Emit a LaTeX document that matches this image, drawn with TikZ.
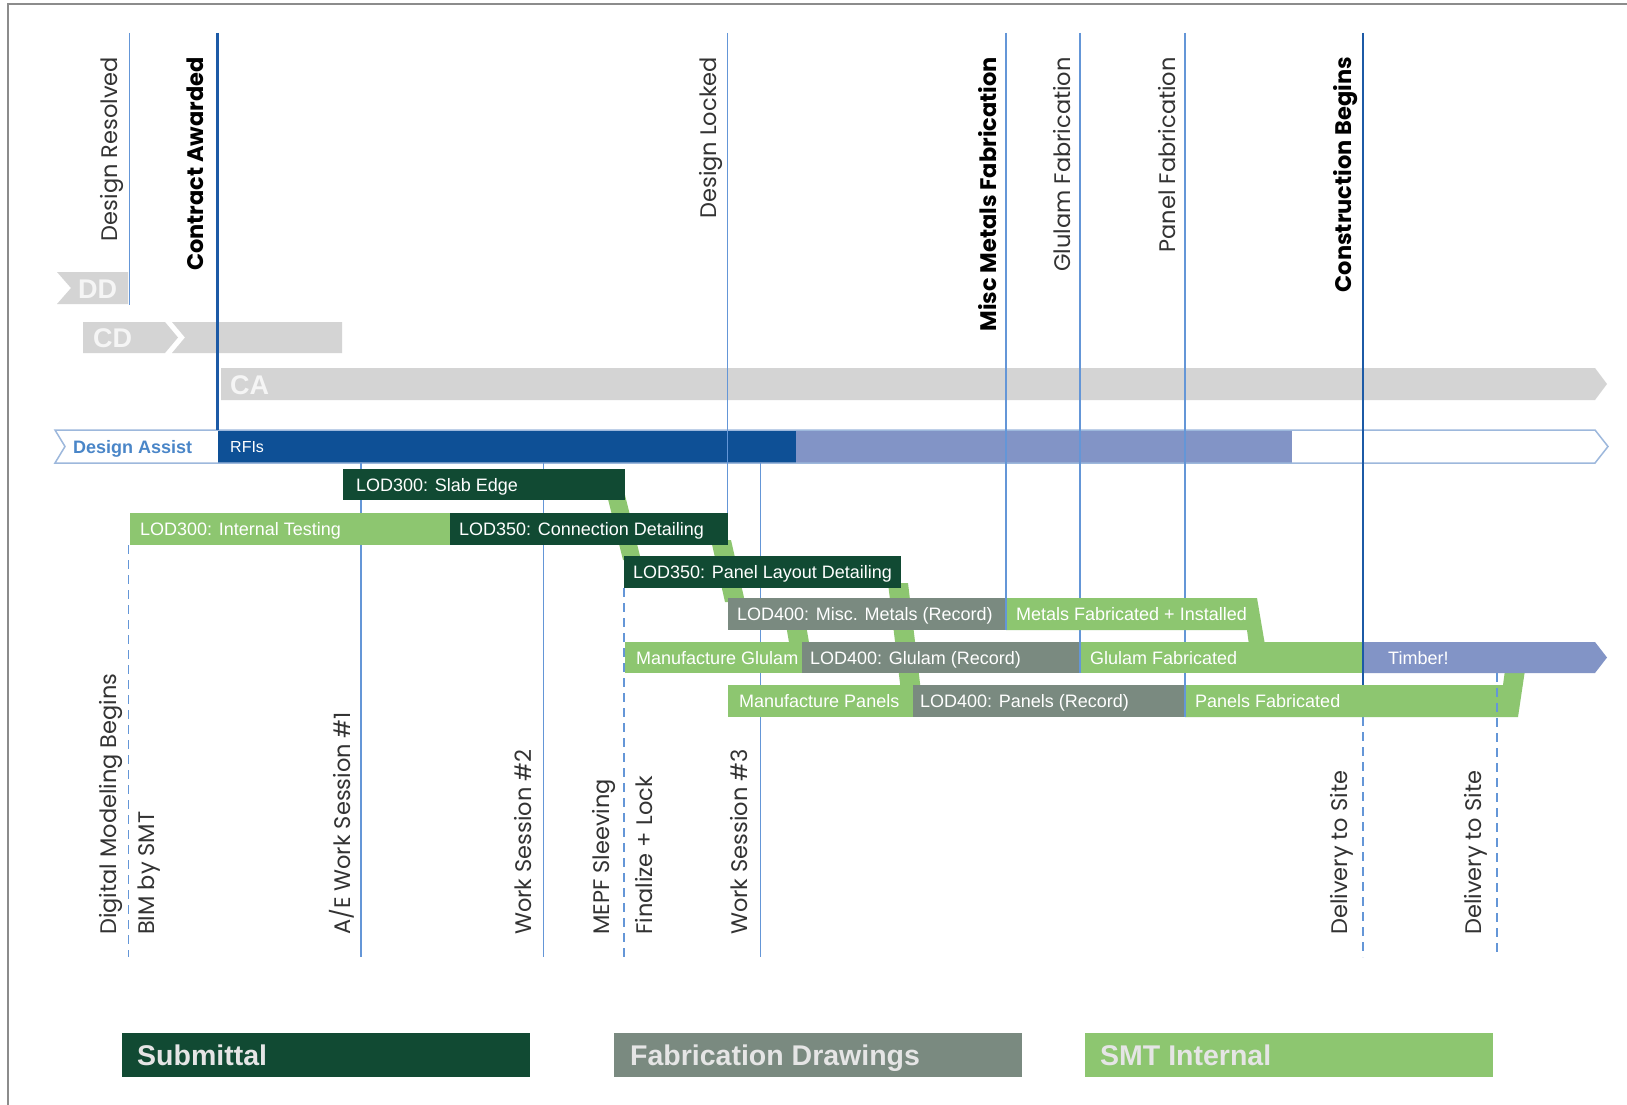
\documentclass[tikz,border=0pt]{standalone}
\usepackage{fontspec}
\setmainfont{Liberation Sans}
\newfontfamily\pop{Poppins}
\definecolor{dkg}{HTML}{114A33}
\definecolor{ltg}{HTML}{8DC670}
\definecolor{gyg}{HTML}{7A8A80}
\definecolor{rfib}{HTML}{0E5096}
\definecolor{peri}{HTML}{8294C6}
\definecolor{phase}{HTML}{D4D4D4}
\definecolor{lineb}{HTML}{6496D7}
\definecolor{lined}{HTML}{1C5AA6}
\definecolor{dablue}{HTML}{4A86C8}
\definecolor{daout}{HTML}{9DB8DC}
\definecolor{labgray}{HTML}{333333}
\definecolor{framec}{HTML}{8C8C8C}
\begin{document}
\begin{tikzpicture}[x=1pt,y=-1pt,
  lbl/.style={inner sep=0pt, anchor=base west, text=white, font=\fontsize{18}{20}\selectfont},
  phlbl/.style={inner sep=0pt, anchor=base west, text=white!96!black, font=\fontsize{27}{30}\selectfont\bfseries},
  toplab/.style={rotate=90, inner sep=0pt, anchor=base east, text=labgray, font=\pop\fontsize{22.5}{26}\selectfont},
  toplabb/.style={toplab, text=black, font=\pop\bfseries\fontsize{22.5}{26}\selectfont},
  botlab/.style={rotate=90, inner sep=0pt, anchor=base west, text=labgray, font=\pop\fontsize{22.5}{26}\selectfont},
  legtxt/.style={inner sep=0pt, anchor=base west, text=white!90!black, font=\fontsize{28.5}{32}\selectfont\bfseries},
  thinl/.style={draw=lineb, line width=1.6pt},
  thickl/.style={draw=lined, line width=2.6pt},
  dashl/.style={draw=lineb, line width=1.6pt, dash pattern=on 9pt off 6pt}
]
\useasboundingbox (0,0) rectangle (1627,1105);
\fill[white] (0,0) rectangle (1627,1105);
% frame
\draw[framec, line width=1.5pt] (8,1105) -- (8,4) -- (1627,4);

% ---------- phases ----------
\fill[phase] (57,272) -- (128,272) -- (128,304) -- (57,304) -- (71,288) -- cycle;
\node[phlbl] (dd) at (78,298) {DD};
\fill[phase] (83,322) -- (165,322) -- (178,337.5) -- (165,353) -- (83,353) -- cycle;
\fill[phase] (172,322) -- (342,322) -- (342,353) -- (172,353) -- (185,337.5) -- cycle;
\node[phlbl] (cd) at (93,347) {CD};
\fill[phase] (221,368) -- (1595,368) -- (1607,384) -- (1595,400) -- (221,400) -- cycle;
\node[phlbl] (ca) at (230,394) {CA};

% ---------- design assist ----------
\fill[rfib] (218,430) rectangle (796,463);
\fill[peri] (796,430) rectangle (1292,463);
\draw[daout, line width=1.5pt, line join=miter] (55,430) -- (1595,430) -- (1608,446.5) -- (1595,463) -- (55,463) -- (65,446.5) -- cycle;
\node[inner sep=0pt, anchor=base west, text=dablue, font=\fontsize{18}{20}\selectfont\bfseries] (da) at (73,453) {Design Assist};
\node[lbl, font=\fontsize{16}{18}\selectfont] (rfi) at (230,452) {RFIs};

% ---------- milestone lines (behind the task bars) ----------
\draw[thinl] (129.5,33) -- (129.5,305);
\draw[thickl] (217.5,33) -- (217.5,430);
\draw[thinl] (727.5,33) -- (727.5,598);
\draw[thinl] (1006,33) -- (1006,630);
\draw[thinl] (1080,33) -- (1080,673);
\draw[thinl] (1185,33) -- (1185,717);
\draw[draw=lined, line width=2pt] (1363,33) -- (1363,685);
\draw[thinl] (361,463) -- (361,957);
\draw[thinl] (543.5,463) -- (543.5,957);
\draw[thinl] (760.5,463) -- (760.5,957);
\draw[dashl] (128.5,545) -- (128.5,957);
\draw[dashl] (624,588) -- (624,957);
\draw[dashl] (1363,717) -- (1363,957);

% ---------- connector bands ----------
\fill[ltg] (607,495) -- (625,495) -- (641,560) -- (623,560) -- cycle;
\fill[ltg] (711,540) -- (731,540) -- (745,602) -- (725,602) -- cycle;
\fill[ltg] (888,583) -- (908,583) -- (922,700) -- (902,700) -- cycle;
\fill[ltg] (786,625) -- (806,625) -- (810,648) -- (790,648) -- cycle;

% ---------- task bars ----------
% row 1
\fill[dkg] (343,469) rectangle (625,500);
\node[lbl] (slab) at (356,491) {LOD300: Slab Edge};
% row 2
\fill[ltg] (130,513) rectangle (450,545);
\node[lbl] (inttest) at (140,535.5) {LOD300: Internal Testing};
\fill[dkg] (450,513) rectangle (728,545);
\node[lbl] (conn) at (459,535.5) {LOD350: Connection Detailing};
% row 3
\fill[dkg] (624,556) rectangle (901,588);
\node[lbl] (panlay) at (633,578.5) {LOD350: Panel Layout Detailing};
% row 4
\fill[gyg] (728,598) rectangle (1006,630);
\node[lbl] (miscrec) at (737,620.5) {LOD400: Misc. Metals (Record)};
\fill[ltg] (1006,598) -- (1257,598) -- (1265,645) -- (1249,645) -- (1247,630) -- (1006,630) -- cycle;
\node[lbl] (metfab) at (1016,620.5) {Metals Fabricated + Installed};
% row 6 (panels), drawn before row 5 so the timber arrow overlaps the tail
\fill[ltg] (728,685) rectangle (913,717);
\node[lbl] (manpan) at (739,707.5) {Manufacture Panels};
\fill[gyg] (913,685) rectangle (1185,717);
\node[lbl] (panrec) at (920,707.5) {LOD400: Panels (Record)};
\fill[ltg] (1185,685) -- (1503,685) -- (1505,670) -- (1525,670) -- (1518,717) -- (1185,717) -- cycle;
\node[lbl] (panfab) at (1195,707.5) {Panels Fabricated};
% row 5 (glulam)
\fill[ltg] (625,642) rectangle (802,673);
\node[lbl] (mangl) at (636,664) {Manufacture Glulam};
\fill[gyg] (802,642) rectangle (1080,673);
\node[lbl] (glrec) at (810,664) {LOD400: Glulam (Record)};
\fill[ltg] (1080,642) rectangle (1363,673);
\node[lbl] (glfab) at (1090,664) {Glulam Fabricated};
\fill[peri] (1363,642) -- (1595,642) -- (1607,657.5) -- (1595,673) -- (1363,673) -- cycle;
\node[lbl] (timber) at (1388,664) {Timber!};

% ---------- milestone edges shown on the bars ----------
\draw[thinl] (1006,598) -- (1006,630);
\draw[thinl] (1080,642) -- (1080,673);
\draw[thinl] (1185,685) -- (1185,717);
\draw[draw=lined, line width=2pt] (1363,642) -- (1363,685);
\draw[dashl] (1497,673) -- (1497,957);

% ---------- top labels ----------
\node[toplab] (l1) at (117,57) {Design Resolved};
\node[toplabb] (l2) at (203,57) {Contract Awarded};
\node[toplab] (l3) at (716,57) {Design Locked};
\node[toplabb] (l4) at (996,57) {Misc Metals Fabrication};
\node[toplab] (l5) at (1070,57) {Glulam Fabrication};
\node[toplab] (l6) at (1175,57) {Panel Fabrication};
\node[toplabb] (l7) at (1351,57) {Construction Begins};

% ---------- bottom labels ----------
\node[botlab] (b1) at (116,935) {Digital Modeling Begins};
\node[botlab] (b2) at (154,935) {BIM by SMT};
\node[botlab] (b3) at (350,935) {A/E Work Session \#1};
\node[botlab] (b4) at (531,935) {Work Session \#2};
\node[botlab] (b5) at (609,935) {MEPF Sleeving};
\node[botlab] (b6) at (652,935) {Finalize + Lock};
\node[botlab] (b7) at (747,935) {Work Session \#3};
\node[botlab] (b8) at (1347,935) {Delivery to Site};
\node[botlab] (b9) at (1481,935) {Delivery to Site};

% ---------- legend ----------
\fill[dkg] (122,1033) rectangle (530,1077);
\node[legtxt] (lg1) at (137,1065) {Submittal};
\fill[gyg] (614,1033) rectangle (1022,1077);
\node[legtxt] (lg2) at (630,1065) {Fabrication Drawings};
\fill[ltg] (1085,1033) rectangle (1493,1077);
\node[legtxt] (lg3) at (1100,1065) {SMT Internal};
\end{tikzpicture}
\end{document}
